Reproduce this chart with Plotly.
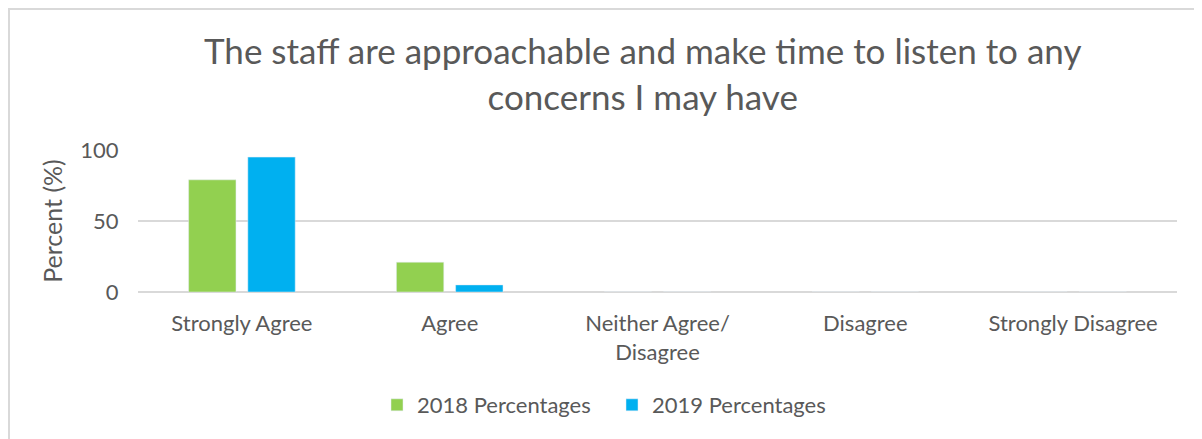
import plotly.graph_objects as go

categories = ["Strongly Agree", "Agree", "Neither Agree/<br>Disagree", "Disagree", "Strongly Disagree"]
pct_2018 = [79, 21, 0, 0, 0]
pct_2019 = [95, 5, 0, 0, 0]
series_names = ["2018 Percentages", "2019 Percentages"]
title_text = "The staff are approachable and make time to listen to any<br>concerns I may have"

OFF = 8  # default page body margin
W, H = 1202 - OFF, 439 - OFF
ml, mt = 138 - OFF, 150 - OFF
mr = W - (1177 - OFF)
mb = H - (292 - OFF)
pw, ph = W - ml - mr, H - mt - mb

FONT = "Lato"
TXT = "#595959"

fig = go.Figure()
fig.add_trace(go.Bar(x=categories, y=pct_2018, name=series_names[0], marker_color="#92D050"))
fig.add_trace(go.Bar(x=categories, y=pct_2019, name=series_names[1], marker_color="#00B0F0"))

def px2x(px):
    return (px - OFF - ml) / pw

def px2y(py):
    return (H - mb - (py - OFF)) / ph

fig.update_layout(
    width=W, height=H,
    margin=dict(l=ml, r=mr, t=mt, b=mb, pad=0),
    paper_bgcolor="white", plot_bgcolor="white",
    barmode="group", bargap=0.43, bargroupgap=0.2,
    font=dict(family=FONT, color=TXT, size=22),
    showlegend=True,
    legend=dict(orientation="h", x=px2x(612), xanchor="center", y=px2y(405), yanchor="middle",
                font=dict(size=22, color=TXT), itemwidth=30, entrywidth=190, traceorder="normal"),
    xaxis=dict(showgrid=False, showline=False, ticks="outside", ticklen=12, tickcolor="rgba(0,0,0,0)",
               tickfont=dict(size=22, color=TXT)),
    yaxis=dict(range=[0, 100], tickvals=[0, 50, 100], showgrid=True, gridcolor="#d9d9d9", gridwidth=1.5,
               zeroline=True, zerolinecolor="#d9d9d9", zerolinewidth=1.5, showline=False,
               ticks="outside", ticklen=14, tickcolor="rgba(0,0,0,0)", tickfont=dict(size=22, color=TXT),
               title=dict(text="Percent (%)", font=dict(size=25, color=TXT), standoff=10)),
    annotations=[dict(text=title_text, xref="paper", yref="paper", x=px2x(642), y=px2y(73),
                      xanchor="center", yanchor="middle", showarrow=False,
                      font=dict(size=35, color=TXT, family=FONT))],
    shapes=[dict(type="rect", xref="paper", yref="paper", x0=px2x(OFF + 1), x1=px2x(1215), y0=px2y(460),
                 y1=px2y(OFF + 1), line=dict(color="#d9d9d9", width=2), fillcolor="rgba(0,0,0,0)",
                 layer="below")],
)

fig.write_html("out.html")
